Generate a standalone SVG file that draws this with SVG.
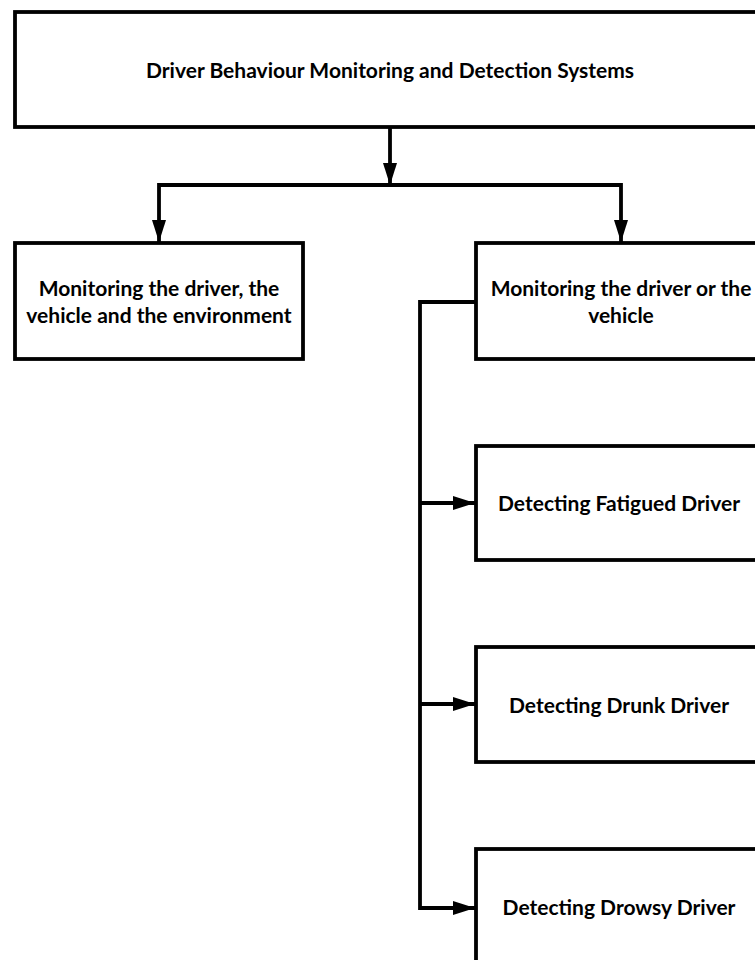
<svg xmlns="http://www.w3.org/2000/svg" width="755" height="960" viewBox="0 0 755 960">
  <style>
    .box { fill: #ffffff; stroke: #000000; stroke-width: 3.8; }
    .lbl { font-family: Lato, "Open Sans", "Liberation Sans", sans-serif; font-weight: bold; font-size: 21px; fill: #000000; text-anchor: middle; }
    .wire { fill: none; stroke: #000000; stroke-width: 3.8; }
  </style>
  <defs>
    <marker id="arrow" viewBox="0 0 22 14" refX="22" refY="7" markerWidth="22" markerHeight="14" markerUnits="userSpaceOnUse" orient="auto">
      <path d="M0,0 L22,7 L0,14 Z" fill="#000000"/>
    </marker>
  </defs>
  <rect width="755" height="960" fill="#ffffff"/>

  <!-- connectors -->
  <g id="connectors">
    <path class="wire" d="M390,127 V185" marker-end="url(#arrow)"/>
    <path class="wire" d="M390,185 H159 V242" marker-end="url(#arrow)"/>
    <path class="wire" d="M390,185 H621 V242" marker-end="url(#arrow)"/>
    <path class="wire" d="M476,302 H420 V908 H475" marker-end="url(#arrow)"/>
    <path class="wire" d="M420,503 H475" marker-end="url(#arrow)"/>
    <path class="wire" d="M420,704 H475" marker-end="url(#arrow)"/>
  </g>

  <g id="root">
    <rect class="box" x="15" y="12" width="760" height="115"/>
    <text class="lbl" x="390" y="78">Driver Behaviour Monitoring and Detection Systems</text>
  </g>

  <g id="driver-vehicle-environment">
    <rect class="box" x="15" y="243" width="288" height="116"/>
    <text class="lbl" x="159" y="296">Monitoring the driver, the</text>
    <text class="lbl" x="159" y="323">vehicle and the environment</text>
  </g>

  <g id="driver-or-vehicle">
    <rect class="box" x="476" y="243" width="290" height="116"/>
    <text class="lbl" x="621" y="296">Monitoring the driver or the</text>
    <text class="lbl" x="621" y="323">vehicle</text>
  </g>

  <g id="fatigued">
    <rect class="box" x="476" y="446" width="290" height="114"/>
    <text class="lbl" x="619" y="511">Detecting Fatigued Driver</text>
  </g>

  <g id="drunk">
    <rect class="box" x="476" y="647" width="290" height="115"/>
    <text class="lbl" x="619" y="713">Detecting Drunk Driver</text>
  </g>

  <g id="drowsy">
    <rect class="box" x="476" y="849" width="290" height="130"/>
    <text class="lbl" x="619" y="915">Detecting Drowsy Driver</text>
  </g>
</svg>
